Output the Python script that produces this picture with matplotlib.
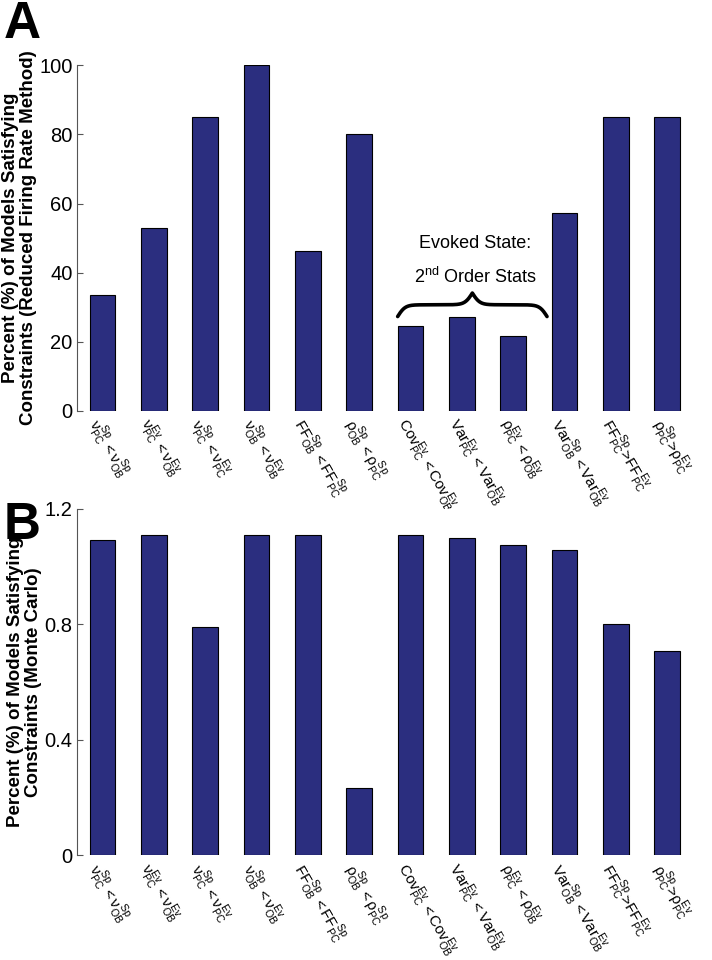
import numpy as np
import matplotlib
matplotlib.use('Agg')
import matplotlib.pyplot as plt

plt.rcParams['font.family'] = ['Liberation Sans', 'DejaVu Sans']
plt.rcParams['mathtext.fontset'] = 'custom'
plt.rcParams['mathtext.rm'] = 'Liberation Sans'
plt.rcParams['mathtext.it'] = 'Liberation Sans'
plt.rcParams['mathtext.bf'] = 'Liberation Sans:bold'

labels = [
    r'$\nu_{PC}^{Sp}\,<\nu_{OB}^{Sp}$',
    r'$\nu_{PC}^{Ev}\,<\nu_{OB}^{Ev}$',
    r'$\nu_{PC}^{Sp}\,<\nu_{PC}^{Ev}$',
    r'$\nu_{OB}^{Sp}\,<\nu_{OB}^{Ev}$',
    r'$FF_{OB}^{Sp}\,<FF_{PC}^{Sp}$',
    r'$\rho_{OB}^{Sp}\,<\rho_{PC}^{Sp}$',
    r'$Cov_{PC}^{Ev}\,<Cov_{OB}^{Ev}$',
    r'$Var_{PC}^{Ev}\,<Var_{OB}^{Ev}$',
    r'$\rho_{PC}^{Ev}\,<\rho_{OB}^{Ev}$',
    r'$Var_{OB}^{Sp}\,<Var_{OB}^{Ev}$',
    r'$FF_{PC}^{Sp}\!>\!FF_{PC}^{Ev}$',
    r'$\rho_{PC}^{Sp}\!>\!\rho_{PC}^{Ev}$',
]
reduced = [33.5, 52.9, 85.0, 100.0, 46.2, 80.0, 24.5, 27.2, 21.7, 57.3, 85.0, 85.0]
monte_carlo = [1.093, 1.11, 0.79, 1.11, 1.11, 0.232, 1.11, 1.10, 1.075, 1.058, 0.80, 0.708]

bar_color = '#2b2e7f'
x = np.arange(1, len(labels) + 1)

fig = plt.figure(figsize=(7.12, 9.6), dpi=100)
axA = fig.add_axes([0.108, 0.572, 0.865, 0.36])
axB = fig.add_axes([0.108, 0.109, 0.865, 0.361])


def style(ax, vals, ymax, yticks, yticklabels, ylabel):
    ax.bar(x, vals, width=0.5, color=bar_color, edgecolor='black', linewidth=0.8)
    ax.set_xlim(0.5, 12.5)
    ax.set_ylim(0, ymax)
    ax.set_yticks(yticks)
    ax.set_yticklabels(yticklabels, fontsize=14.5)
    ax.tick_params(axis='y', direction='in', length=4, width=0.8, color='#555555', pad=3)
    ax.set_xticks(x)
    ax.set_xticklabels(labels, rotation=-60, ha='left', va='top',
                       rotation_mode='anchor', fontsize=11)
    ax.tick_params(axis='x', length=0, pad=3)
    for s in ['top', 'right', 'bottom']:
        ax.spines[s].set_visible(False)
    ax.spines['left'].set_color('#555555')
    ax.spines['left'].set_linewidth(0.8)
    ax.set_ylabel(ylabel, fontsize=13.5, fontweight='bold', linespacing=1.05, labelpad=2)


style(axA, reduced, 100, [0, 20, 40, 60, 80, 100], ['0', '20', '40', '60', '80', '100'],
      'Percent (%) of Models Satisfying\nConstraints (Reduced Firing Rate Method)')
style(axB, monte_carlo, 1.2, [0, 0.4, 0.8, 1.2], ['0', '0.4', '0.8', '1.2'],
      'Percent (%) of Models Satisfying\nConstraints (Monte Carlo)')


# curly brace over the evoked 2nd order stats bars
def brace(ax, x0, x1, y, h):
    beta = 40.0
    half = np.linspace(0, 0.5, 200)
    yh = 1 / (1 + np.exp(-beta * (half - half[0]))) + 1 / (1 + np.exp(-beta * (half - half[-1])))
    yy = np.concatenate((yh, yh[-2::-1]))
    yy = (yy - yy.min()) / (yy.max() - yy.min())
    xx = np.linspace(x0, x1, len(yy))
    ax.plot(xx, y + h * yy, color='black', lw=2.6, solid_capstyle='round', clip_on=False)


brace(axA, 6.75, 9.66, 27.3, 6.8)
axA.text(8.26, 48.5, 'Evoked State:', ha='center', va='center', fontsize=13)
axA.text(8.26, 38.8, r'2$^{\mathrm{nd}}$ Order Stats', ha='center', va='center', fontsize=13)

fig.text(0.005, 1.0, 'A', fontsize=37, fontweight='bold', va='top', ha='left')
fig.text(0.005, 0.478, 'B', fontsize=37, fontweight='bold', va='top', ha='left')

fig.savefig('out.png', dpi=100)
